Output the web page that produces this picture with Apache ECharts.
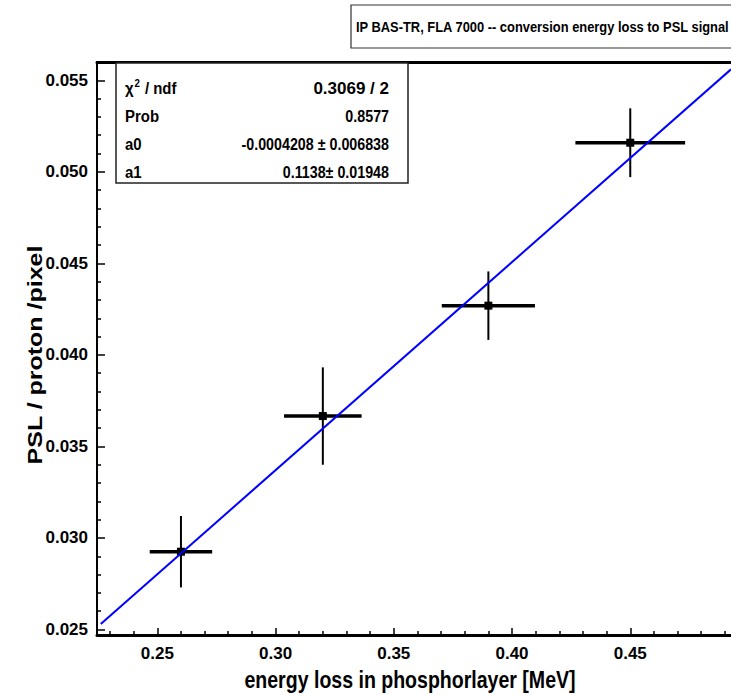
<!DOCTYPE html>
<html>
<head>
<meta charset="utf-8">
<title>PSL conversion</title>
<script src="https://cdn.jsdelivr.net/npm/echarts@6/dist/echarts.min.js"></script>
<style>
  html, body { margin: 0; padding: 0; background: #fff; }
  #chart { width: 731px; height: 695px; }
</style>
</head>
<body>
<div id="chart"></div>
<script>
// Measured points: energy loss in the phosphor layer vs. PSL signal
const energyLoss = [0.26, 0.32, 0.39, 0.45];
const pslSignal = [0.02925, 0.03666, 0.04269, 0.05159];
const energyErr = [0.0132, 0.0164, 0.0197, 0.0232];
const pslErr = [0.00195, 0.00266, 0.00187, 0.00188];

// Linear fit pol1 (a0 + a1*x) and its drawn end points
const fitParams = { a0: -0.0004208, a1: 0.1138 };
const fitX = [0.2261, 0.4926];
const fitY = [0.0253, 0.0556];

// Fit statistics box rows
const statNames = ['Prob', 'a0', 'a1'];
const statValues = ['0.8577', '-0.0004208 \u00b1 0.006838', '0.1138\u00b1 0.01948'];
const chiText = '0.3069 / 2';

// Axis ranges and ticks
const xRange = [0.2245, 0.4926];
const yRange = [0.0247, 0.0560];
const xMajor = [0.25, 0.30, 0.35, 0.40, 0.45];
const xMinor = [0.23, 0.24, 0.26, 0.27, 0.28, 0.29, 0.31, 0.32, 0.33, 0.34, 0.36, 0.37, 0.38, 0.39, 0.41, 0.42, 0.43, 0.44, 0.46, 0.47, 0.48, 0.49];
const yMajor = [0.025, 0.030, 0.035, 0.040, 0.045, 0.050, 0.055];
const yMinor = [0.026, 0.027, 0.028, 0.029, 0.031, 0.032, 0.033, 0.034, 0.036, 0.037, 0.038, 0.039,
                0.041, 0.042, 0.043, 0.044, 0.046, 0.047, 0.048, 0.049, 0.051, 0.052, 0.053, 0.054];

const titleText = 'IP BAS-TR, FLA 7000 -- conversion energy loss to PSL signal';
const xTitle = 'energy loss in phosphorlayer [MeV]';
const yTitle = 'PSL / proton /pixel';

const FONT = "'Liberation Sans', Arial, Helvetica, sans-serif";

const points = energyLoss.map((x, i) => [x, pslSignal[i], energyErr[i], pslErr[i]]);

const chart = echarts.init(document.getElementById('chart'), null, { renderer: 'svg' });

const plainAxis = (extra) => Object.assign({
  type: 'value',
  min: xRange[0],
  max: xRange[1],
  splitLine: { show: false },
  axisLine: { show: false },
  axisTick: { show: false },
  axisLabel: { show: false }
}, extra);

chart.setOption({
  animation: false,
  backgroundColor: '#fff',
  grid: { left: 97, top: 62, right: 0, bottom: 60, containLabel: false, outerBoundsMode: 'none' },
  xAxis: [
    plainAxis({
      position: 'bottom',
      axisLine: { show: true, onZero: false, lineStyle: { color: '#000', width: 3 } },
      axisTick: { show: true, inside: true, length: 7, customValues: xMajor, lineStyle: { color: '#000', width: 1.5 } },
      axisLabel: {
        show: true, customValues: xMajor, margin: 10,
        formatter: v => v.toFixed(2),
        color: '#000', fontFamily: FONT, fontWeight: 'bold', fontSize: 17
      }
    }),
    plainAxis({
      position: 'bottom',
      axisTick: { show: true, inside: true, length: 4, customValues: xMinor, lineStyle: { color: '#000', width: 1.5 } }
    }),
    plainAxis({
      position: 'top',
      axisLine: { show: true, onZero: false, lineStyle: { color: '#000', width: 3 } }
    })
  ],
  yAxis: [
    {
      type: 'value', min: yRange[0], max: yRange[1], position: 'left',
      splitLine: { show: false },
      axisLine: { show: true, onZero: false, lineStyle: { color: '#000', width: 2 } },
      axisTick: { show: true, inside: true, length: 8, customValues: yMajor, lineStyle: { color: '#000', width: 1.5 } },
      axisLabel: {
        show: true, customValues: yMajor, margin: 9,
        formatter: v => v.toFixed(3),
        color: '#000', fontFamily: FONT, fontWeight: 'bold', fontSize: 17
      }
    },
    {
      type: 'value', min: yRange[0], max: yRange[1], position: 'left',
      splitLine: { show: false },
      axisLine: { show: false },
      axisTick: { show: true, inside: true, length: 4, customValues: yMinor, lineStyle: { color: '#000', width: 1.5 } },
      axisLabel: { show: false }
    }
  ],
  series: [
    {
      type: 'custom',
      xAxisIndex: 0, yAxisIndex: 0,
      data: points,
      z: 3,
      renderItem: function (params, api) {
        const x = api.value(0), y = api.value(1), ex = api.value(2), ey = api.value(3);
        const c = api.coord([x, y]);
        const l = api.coord([x - ex, y]);
        const r = api.coord([x + ex, y]);
        const t = api.coord([x, y + ey]);
        const b = api.coord([x, y - ey]);
        return {
          type: 'group',
          children: [
            { type: 'line', shape: { x1: l[0], y1: l[1], x2: r[0], y2: r[1] }, style: { stroke: '#000', lineWidth: 3.5 } },
            { type: 'line', shape: { x1: t[0], y1: t[1], x2: b[0], y2: b[1] }, style: { stroke: '#000', lineWidth: 2 } },
            { type: 'rect', shape: { x: c[0] - 4, y: c[1] - 4, width: 8, height: 8 }, style: { fill: '#000' } }
          ]
        };
      }
    },
    {
      type: 'line',
      name: 'pol1',
      xAxisIndex: 0, yAxisIndex: 0,
      data: fitX.map((x, i) => [x, fitY[i]]),
      symbol: 'none',
      clip: true,
      z: 5,
      lineStyle: { color: '#0000ff', width: 2 }
    }
  ],
  graphic: [
    // title box
    {
      type: 'rect', z: 10,
      shape: { x: 351, y: 5, width: 400, height: 43 },
      style: { fill: '#fff', stroke: '#333', lineWidth: 1.2 }
    },
    {
      type: 'text', z: 11, x: 356, y: 27, scaleX: 0.86,
      style: { text: titleText, fill: '#000', font: 'bold 15px ' + FONT, verticalAlign: 'middle' }
    },
    // statistics box
    {
      type: 'rect', z: 10,
      shape: { x: 116, y: 63, width: 292, height: 120 },
      style: { fill: '#fff', stroke: '#222', lineWidth: 1.5 }
    },
    {
      type: 'text', z: 11, x: 125, y: 88, scaleX: 0.88,
      style: {
        text: '{a|\u03c7}{s|2}{a| / ndf}',
        verticalAlign: 'middle',
        rich: {
          a: { fill: '#000', font: 'bold 17px ' + FONT },
          s: { fill: '#000', font: 'bold 11px ' + FONT, verticalAlign: 'top', padding: [0, 1, 10, 1] }
        }
      }
    },
    {
      type: 'text', z: 11, x: 389, y: 88,
      style: { text: chiText, fill: '#000', font: 'bold 17px ' + FONT, align: 'right', verticalAlign: 'middle' }
    },
    ...statNames.map((n, i) => ({
      type: 'text', z: 11, x: 125, y: 116 + i * 28, scaleX: 0.88,
      style: { text: n, fill: '#000', font: 'bold 17px ' + FONT, verticalAlign: 'middle' }
    })),
    ...statValues.map((v, i) => ({
      type: 'text', z: 11, x: 389, y: 116 + i * 28, scaleX: 0.84,
      style: { text: v, fill: '#000', font: 'bold 17px ' + FONT, align: 'right', verticalAlign: 'middle' }
    })),
    // axis titles
    {
      type: 'text', z: 11, x: 410, y: 680, scaleX: 0.85,
      style: { text: xTitle, fill: '#000', font: 'bold 23px ' + FONT, align: 'center', verticalAlign: 'middle' }
    },
    {
      type: 'text', z: 11, x: 35, y: 355, rotation: Math.PI / 2, scaleY: 0.8,
      style: { text: yTitle, fill: '#000', font: 'bold 25px ' + FONT, align: 'center', verticalAlign: 'middle' }
    }
  ]
});
</script>
</body>
</html>
